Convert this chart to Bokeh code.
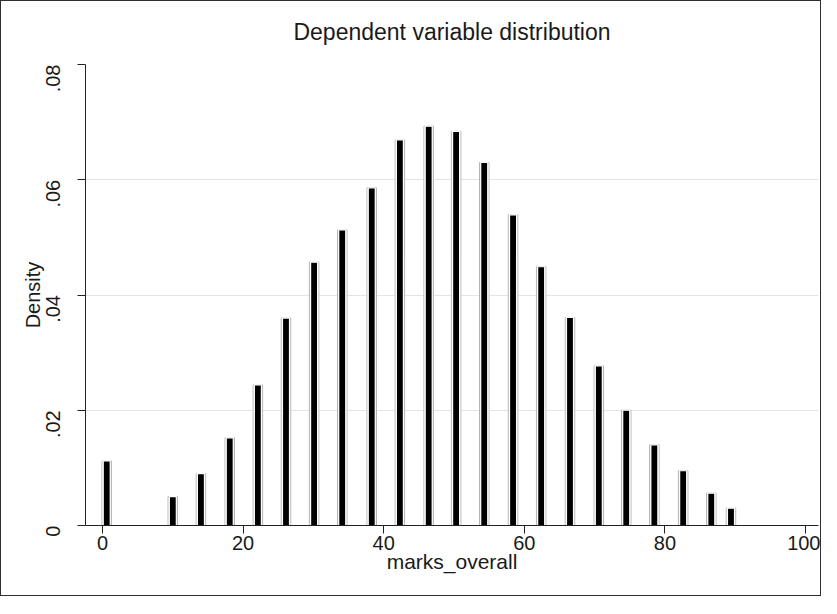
import math
from bokeh.plotting import figure
from bokeh.models import Range1d, FixedTicker, LinearAxis
from bokeh.embed import file_html
from bokeh.resources import INLINE

# ---- data ----
marks = [0.6, 10.0, 14.0, 18.1, 22.1, 26.1, 30.1, 34.1, 38.3, 42.3, 46.4,
         50.3, 54.3, 58.4, 62.4, 66.5, 70.6, 74.5, 78.5, 82.6, 86.6, 89.4]
density = [0.0112, 0.0050, 0.0090, 0.0152, 0.0244, 0.0360, 0.0457, 0.0513,
           0.0586, 0.0669, 0.0693, 0.0684, 0.0630, 0.0539, 0.0449, 0.0361,
           0.0277, 0.0200, 0.0140, 0.0095, 0.0056, 0.0030]
x_ticks = [0, 20, 40, 60, 80, 100]
y_ticks = [0, 0.02, 0.04, 0.06, 0.08]
y_tick_labels = ["0", ".02", ".04", ".06", ".08"]
title_text = "Dependent variable distribution"
x_title = "marks_overall"
y_title = "Density"

FONT = "Liberation Sans"
TXT = "#1a1a1a"

p = figure(width=821, height=596, output_backend="svg", toolbar_location=None,
           x_range=Range1d(-2.42, 101.85), y_range=Range1d(0, 0.08),
           min_border_left=84, min_border_right=4, min_border_top=63, min_border_bottom=72)
p.styles = {"border": "1px solid #303030"}

p.background_fill_color = "white"
p.border_fill_color = "white"
p.outline_line_color = None

# bars: light grey frame + black bar
p.vbar(x=marks, top=density, width=1.35, bottom=0, fill_color="white",
       line_color="#b4b4b4", line_width=1)
p.vbar(x=marks, top=density, width=1.0, bottom=0, fill_color="black",
       line_color="white", line_width=1.2)

# grid
p.xgrid.visible = False
p.ygrid.ticker = FixedTicker(ticks=y_ticks)
p.ygrid.grid_line_color = "#e4e4e4"
p.ygrid.grid_line_width = 1

# x axis
xa = p.xaxis[0]
xa.ticker = FixedTicker(ticks=x_ticks)
xa.axis_label = x_title
xa.axis_label_text_font = FONT
xa.axis_label_text_font_size = "21px"
xa.axis_label_text_font_style = "normal"
xa.axis_label_text_color = TXT
xa.axis_label_standoff = -3
xa.major_label_text_font = FONT
xa.major_label_text_font_size = "20px"
xa.major_label_text_color = TXT
xa.major_label_standoff = 2
xa.major_tick_out = 8
xa.major_tick_in = 0
xa.minor_tick_out = 0
xa.minor_tick_in = 0
xa.axis_line_color = "#222222"
xa.major_tick_line_color = "#222222"

# y axis
ya = p.yaxis[0]
ya.ticker = FixedTicker(ticks=y_ticks)
ya.major_label_overrides = dict(zip(y_ticks, y_tick_labels))
ya.major_label_orientation = math.pi / 2
ya.axis_label = y_title
ya.axis_label_text_font = FONT
ya.axis_label_text_font_size = "20px"
ya.axis_label_text_font_style = "normal"
ya.axis_label_text_color = TXT
ya.axis_label_standoff = -8
ya.major_label_text_font = FONT
ya.major_label_text_font_size = "20px"
ya.major_label_text_color = TXT
ya.major_label_standoff = 25
ya.major_tick_out = 8
ya.major_tick_in = 0
ya.minor_tick_out = 0
ya.minor_tick_in = 0
ya.axis_line_color = "#222222"
ya.major_tick_line_color = "#222222"

# title: label of a bare axis above the frame
ta = LinearAxis(ticker=FixedTicker(ticks=[]), axis_label=title_text)
ta.axis_line_color = None
ta.major_tick_line_color = None
ta.minor_tick_line_color = None
ta.major_tick_out = 0
ta.major_tick_in = 0
ta.minor_tick_out = 0
ta.minor_tick_in = 0
ta.major_label_standoff = 0
ta.axis_label_standoff = 20
ta.axis_label_text_font = FONT
ta.axis_label_text_font_size = "23px"
ta.axis_label_text_font_style = "normal"
ta.axis_label_text_color = TXT
p.add_layout(ta, "above")

open("out.html", "w").write(file_html(p, INLINE))
